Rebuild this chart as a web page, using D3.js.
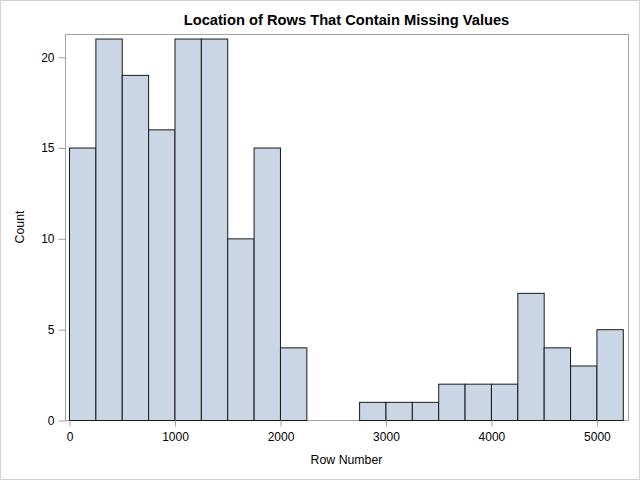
<!DOCTYPE html>
<html><head><meta charset="utf-8">
<script src="https://cdn.jsdelivr.net/npm/d3@7"></script>
<style>body{margin:0;background:#fff}svg{display:block}text{font-family:Arial,"Liberation Sans",sans-serif}</style>
</head><body>
<script>
const binStarts = [0,250,500,750,1000,1250,1500,1750,2000,2250,2500,2750,3000,3250,3500,3750,4000,4250,4500,4750,5000];
const binWidth = 250;
const counts = [15,21,19,16,21,21,10,15,4,0,0,1,1,1,2,2,2,7,4,3,5];
const xTicks = [0,1000,2000,3000,4000,5000];
const yTicks = [0,5,10,15,20];
const title = "Location of Rows That Contain Missing Values";
const xLabel = "Row Number", yLabel = "Count";

const W=640,H=480;
const frame={l:65,t:34,r:628,b:420};
const svg=d3.select("body").append("svg").attr("width",W).attr("height",H);
svg.append("rect").attr("x",0.5).attr("y",0.5).attr("width",W-1).attr("height",H-1).attr("fill","#fff").attr("stroke","#d3d3d3");

const x=d3.scaleLinear().domain([0,5250]).range([69,622.8]);
const y=d3.scaleLinear().domain([0,20]).range([420,56.7]);

svg.append("rect").attr("x",frame.l+0.5).attr("y",frame.t+0.5).attr("width",frame.r-frame.l).attr("height",frame.b-frame.t).attr("fill","#fff").attr("stroke","#9ea3a8");

svg.selectAll("rect.bar").data(counts).join("rect").attr("class","bar")
 .attr("x",(d,i)=>x(binStarts[i])+0.5).attr("width",(d,i)=>x(binStarts[i]+binWidth)-x(binStarts[i]))
 .attr("y",d=>y(d)+0.5).attr("height",d=>y(0)-y(d))
 .attr("fill","#cad5e5").attr("stroke","#1a1a1a").attr("stroke-width",1);

const fmt=d3.format("d");
const xAxis=svg.append("g").attr("transform",`translate(0.5,${frame.b+0.5})`).call(d3.axisBottom(x).tickValues(xTicks).tickFormat(fmt).tickSize(6).tickPadding(6));
const yAxis=svg.append("g").attr("transform",`translate(${frame.l+0.5},0.5)`).call(d3.axisLeft(y).tickValues(yTicks).tickFormat(fmt).tickSize(7).tickPadding(4));
[xAxis,yAxis].forEach(g=>{g.select(".domain").remove();g.selectAll(".tick line").attr("stroke","#a0a0a0");g.selectAll(".tick text").attr("fill","#000").attr("font-size","12px").attr("font-family","Arial,'Liberation Sans',sans-serif");});

svg.append("text").attr("x",(frame.l+frame.r)/2).attr("y",25).attr("text-anchor","middle").attr("font-weight","bold").attr("font-size","14.7px").text(title);
svg.append("text").attr("x",(frame.l+frame.r)/2).attr("y",464).attr("text-anchor","middle").attr("font-size","12.3px").text(xLabel);
svg.append("text").attr("transform",`translate(24,${(frame.t+frame.b)/2}) rotate(-90)`).attr("text-anchor","middle").attr("font-size","12.3px").text(yLabel);
</script>
</body></html>
